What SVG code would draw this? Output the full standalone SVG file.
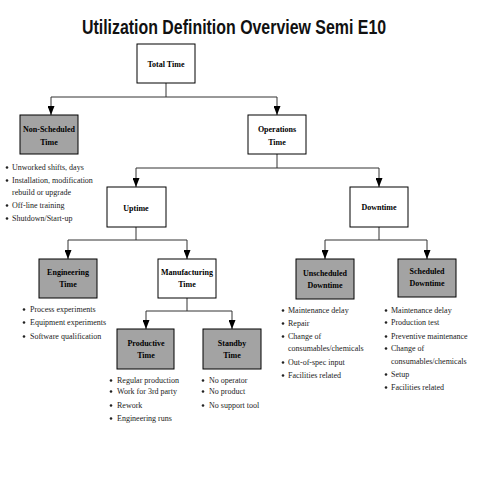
<svg xmlns="http://www.w3.org/2000/svg" width="480" height="480" viewBox="0 0 480 480">
<defs>
<marker id="arr" viewBox="0 0 9 7" refX="9" refY="3.5" markerWidth="9" markerHeight="7" markerUnits="userSpaceOnUse" orient="auto">
<path d="M0,0 L9,3.5 L0,7 z" fill="#000"/>
</marker>
<style>
.box{stroke:#000;stroke-width:1;fill:#fff}
.gray{fill:#a3a3a3}
.lbl{font-family:"Liberation Serif","Times New Roman",serif;font-weight:bold;font-size:8px;text-anchor:middle;fill:#000}
.bl{font-family:"Liberation Serif","Times New Roman",serif;font-size:8px;fill:#222}
.con{stroke:#333;stroke-width:1;fill:none}
.arrow{stroke:#333;stroke-width:1;fill:none;marker-end:url(#arr)}
.title{font-family:"Liberation Sans",Arial,sans-serif;font-weight:bold;font-size:21px;text-anchor:middle;fill:#111}
</style>
</defs>
<rect width="480" height="480" fill="#fff"/>
<text class="title" transform="translate(234,34) scale(0.758,1)" x="0" y="0">Utilization Definition Overview Semi E10</text>

<g id="connectors">
<path class="con" d="M166,83 V97 M51,97 H277 M277,154 V168 M136,168 H379 M136,227 V240 M68,240 H187 M187,298 V311 M146,311 H232 M379,227 V240 M325,240 H427"/>
<path class="arrow" d="M51,97 V115"/>
<path class="arrow" d="M277,97 V115"/>
<path class="arrow" d="M136,168 V187"/>
<path class="arrow" d="M379,168 V187"/>
<path class="arrow" d="M68,240 V259"/>
<path class="arrow" d="M187,240 V259"/>
<path class="arrow" d="M146,311 V329"/>
<path class="arrow" d="M232,311 V329"/>
<path class="arrow" d="M325,240 V259"/>
<path class="arrow" d="M427,240 V259"/>
</g>

<g id="total-time">
<rect class="box" x="137" y="44" width="58" height="39"/>
<text class="lbl" x="166" y="67">Total Time</text>
</g>

<g id="non-scheduled-time">
<rect class="box gray" x="20" y="115" width="58" height="39"/>
<text class="lbl" x="49" y="132">Non-Scheduled</text>
<text class="lbl" x="49" y="145">Time</text>
<text class="bl" x="12" y="170">Unworked shifts, days</text>
<text class="bl" x="12" y="183">Installation, modification</text>
<text class="bl" x="12" y="195">rebuild or upgrade</text>
<text class="bl" x="12" y="208">Off-line training</text>
<text class="bl" x="12" y="221">Shutdown/Start-up</text>
<g fill="#222"><circle cx="7" cy="167.5" r="1.3"/><circle cx="7" cy="180.5" r="1.3"/><circle cx="7" cy="205.5" r="1.3"/><circle cx="7" cy="218.5" r="1.3"/></g>
</g>

<g id="operations-time">
<rect class="box" x="248" y="115" width="58" height="39"/>
<text class="lbl" x="277" y="132">Operations</text>
<text class="lbl" x="277" y="145">Time</text>
</g>

<g id="uptime">
<rect class="box" x="107" y="187" width="59" height="40"/>
<text class="lbl" x="136" y="211">Uptime</text>
</g>

<g id="downtime">
<rect class="box" x="350" y="187" width="58" height="40"/>
<text class="lbl" x="379" y="210">Downtime</text>
</g>

<g id="engineering-time">
<rect class="box gray" x="39" y="259" width="58" height="39"/>
<text class="lbl" x="68" y="275">Engineering</text>
<text class="lbl" x="68" y="287">Time</text>
<text class="bl" x="30" y="312">Process experiments</text>
<text class="bl" x="30" y="325">Equipment experiments</text>
<text class="bl" x="30" y="339">Software qualification</text>
<g fill="#222"><circle cx="24" cy="309.5" r="1.3"/><circle cx="24" cy="322.5" r="1.3"/><circle cx="24" cy="336.5" r="1.3"/></g>
</g>

<g id="manufacturing-time">
<rect class="box" x="158" y="259" width="58" height="39"/>
<text class="lbl" x="187" y="275">Manufacturing</text>
<text class="lbl" x="187" y="287">Time</text>
</g>

<g id="productive-time">
<rect class="box gray" x="117" y="329" width="57" height="40"/>
<text class="lbl" x="146" y="346">Productive</text>
<text class="lbl" x="146" y="358">Time</text>
<text class="bl" x="117" y="383">Regular production</text>
<text class="bl" x="117" y="394">Work for 3rd party</text>
<text class="bl" x="117" y="408">Rework</text>
<text class="bl" x="117" y="421">Engineering runs</text>
<g fill="#222"><circle cx="111" cy="380.5" r="1.3"/><circle cx="111" cy="391.5" r="1.3"/><circle cx="111" cy="405.5" r="1.3"/><circle cx="111" cy="418.5" r="1.3"/></g>
</g>

<g id="standby-time">
<rect class="box gray" x="203" y="329" width="58" height="40"/>
<text class="lbl" x="232" y="346">Standby</text>
<text class="lbl" x="232" y="358">Time</text>
<text class="bl" x="209" y="383">No operator</text>
<text class="bl" x="209" y="394">No product</text>
<text class="bl" x="209" y="408">No support tool</text>
<g fill="#222"><circle cx="203" cy="380.5" r="1.3"/><circle cx="203" cy="391.5" r="1.3"/><circle cx="203" cy="405.5" r="1.3"/></g>
</g>

<g id="unscheduled-downtime">
<rect class="box gray" x="296" y="259" width="58" height="40"/>
<text class="lbl" x="325" y="276">Unscheduled</text>
<text class="lbl" x="325" y="288">Downtime</text>
<text class="bl" x="288" y="313">Maintenance delay</text>
<text class="bl" x="288" y="326">Repair</text>
<text class="bl" x="288" y="339">Change of</text>
<text class="bl" x="288" y="351">consumables/chemicals</text>
<text class="bl" x="288" y="365">Out-of-spec input</text>
<text class="bl" x="288" y="378">Facilities related</text>
<g fill="#222"><circle cx="283" cy="310.5" r="1.3"/><circle cx="283" cy="323.5" r="1.3"/><circle cx="283" cy="336.5" r="1.3"/><circle cx="283" cy="362.5" r="1.3"/><circle cx="283" cy="375.5" r="1.3"/></g>
</g>

<g id="scheduled-downtime">
<rect class="box gray" x="398" y="259" width="58" height="38"/>
<text class="lbl" x="427" y="274">Scheduled</text>
<text class="lbl" x="427" y="286">Downtime</text>
<text class="bl" x="391" y="313">Maintenance delay</text>
<text class="bl" x="391" y="325">Production test</text>
<text class="bl" x="391" y="339">Preventive maintenance</text>
<text class="bl" x="391" y="351">Change of</text>
<text class="bl" x="391" y="364">consumables/chemicals</text>
<text class="bl" x="391" y="377">Setup</text>
<text class="bl" x="391" y="390">Facilities related</text>
<g fill="#222"><circle cx="386" cy="310.5" r="1.3"/><circle cx="386" cy="322.5" r="1.3"/><circle cx="386" cy="336.5" r="1.3"/><circle cx="386" cy="348.5" r="1.3"/><circle cx="386" cy="374.5" r="1.3"/><circle cx="386" cy="387.5" r="1.3"/></g>
</g>
</svg>
